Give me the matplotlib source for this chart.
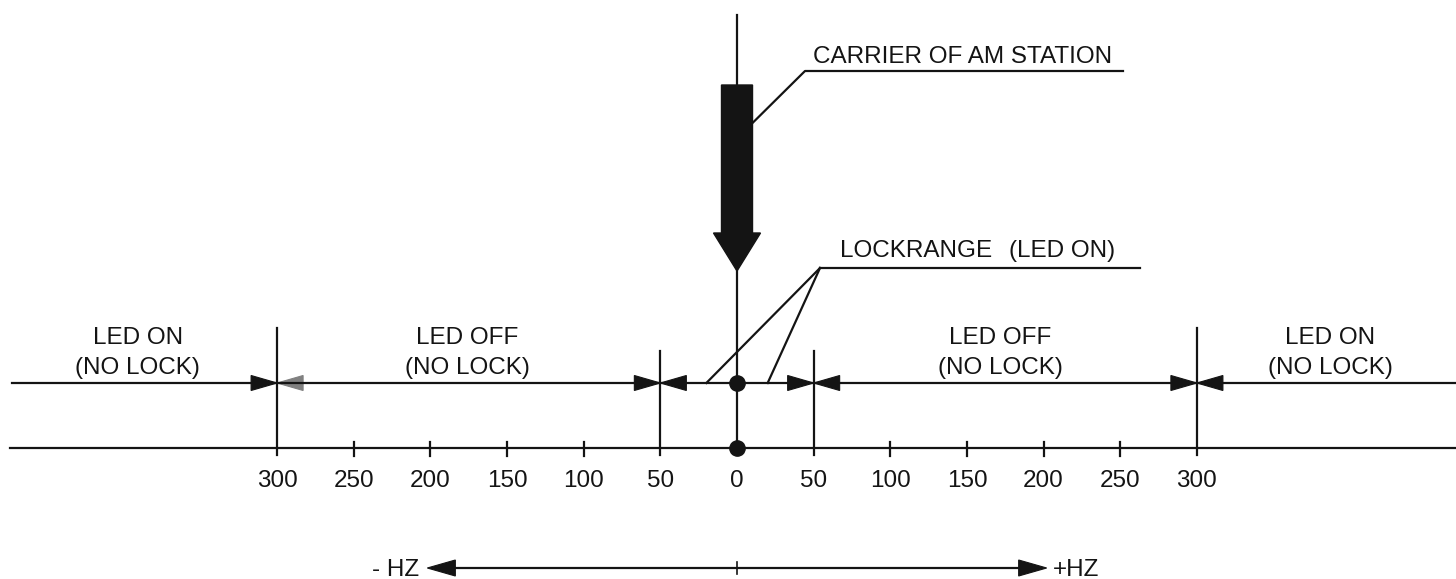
import matplotlib
matplotlib.use("Agg")
import matplotlib.pyplot as plt
from matplotlib.patches import Polygon

# ---------------- data ----------------
tick_hz = [-300, -250, -200, -150, -100, -50, 0, 50, 100, 150, 200, 250, 300]
tick_labels = ["300", "250", "200", "150", "100", "50", "0", "50", "100", "150", "200", "250", "300"]
boundary_hz = [-300, -50, 50, 300]
region_center_hz = [-391, -176, 172, 387]
region_titles = ["LED ON", "LED OFF", "LED OFF", "LED ON"]
region_subtitles = ["(NO LOCK)", "(NO LOCK)", "(NO LOCK)", "(NO LOCK)"]
lock_hz = [-20, 20]
carrier_hz = 0
span_hz = [-202, 202]
carrier_text = "CARRIER OF AM STATION"
lock_text = "LOCKRANGE"
lock_text2 = "(LED ON)"

# ---------------- layout ----------------
W, H = 1456, 579
k = 1.533          # px per Hz
x0 = 737           # px of 0 Hz


def px(d):
    return d / k


fig = plt.figure(figsize=(W / 100, H / 100), dpi=100)
ax = fig.add_axes([0, 0, 1, 1])
ax.set_xlim(-x0 / k, (W - x0) / k)
ax.set_ylim(H, 0)
ax.axis("off")

INK = "#141414"
LW = 1.6
FONT = dict(family=["Liberation Sans", "DejaVu Sans"], size=17.5, color=INK)

y_up, y_lo = 383, 448
xl, xr = ax.get_xlim()

# main horizontal lines
ax.plot([xl + px(12), xr], [y_up, y_up], color=INK, lw=LW)
ax.plot([xl + px(10), xr], [y_lo, y_lo], color=INK, lw=LW)

# boundary verticals and arrowheads
alen, ahw = px(26), 7.5
for b in boundary_hz:
    top = 328 if abs(b) == 300 else 351
    ax.plot([b, b], [top, 455], color=INK, lw=LW)
    for side in (-1, 1):
        col = "#808080" if (b == -300 and side == 1) else INK
        tri = Polygon([[b, y_up], [b + side * alen, y_up - ahw], [b + side * alen, y_up + ahw]],
                      closed=True, facecolor=col, edgecolor=col, lw=0.8)
        ax.add_patch(tri)

# minor ticks and labels
for t, lab in zip(tick_hz, tick_labels):
    if t not in boundary_hz and t != carrier_hz:
        ax.plot([t, t], [442, 456], color=INK, lw=LW)
    ax.text(t, 487, lab, ha="center", va="baseline", **FONT)

# carrier line and dots
ax.plot([carrier_hz, carrier_hz], [15, y_lo], color=INK, lw=LW)
for yy in (y_up, y_lo):
    ax.plot([carrier_hz], [yy], marker="o", ms=11, color=INK, mec=INK)

# thick carrier arrow
sw, hw = px(15.5), px(23.5)
arrow = Polygon([[carrier_hz - sw, 85], [carrier_hz + sw, 85], [carrier_hz + sw, 233],
                 [carrier_hz + hw, 233], [carrier_hz, 271], [carrier_hz - hw, 233],
                 [carrier_hz - sw, 233]], closed=True, facecolor=INK, edgecolor=INK, lw=1)
ax.add_patch(arrow)

# carrier leader + text
ax.plot([carrier_hz + sw, carrier_hz + px(68), carrier_hz + px(386)], [123, 71, 71], color=INK, lw=LW)
ax.text(carrier_hz + px(76), 63, carrier_text, ha="left", va="baseline", **FONT)

# lockrange leaders + text
lx = px(83)
for lh in lock_hz:
    ax.plot([lh, lx], [y_up, 268], color=INK, lw=LW)
ax.plot([lx, px(403)], [268, 268], color=INK, lw=LW)
ax.text(px(103), 257, lock_text, ha="left", va="baseline", **FONT)
ax.text(px(272), 257, lock_text2, ha="left", va="baseline", **FONT)

# region labels
for c, t1, t2 in zip(region_center_hz, region_titles, region_subtitles):
    ax.text(c, 344, t1, ha="center", va="baseline", **FONT)
    ax.text(c, 374, t2, ha="center", va="baseline", **FONT)

# bottom -HZ / +HZ arrow
y_hz = 568
ax.plot([span_hz[0] + px(20), span_hz[1] - px(20)], [y_hz, y_hz], color=INK, lw=LW)
hl, hh = px(28), 8
for s, sgn in zip(span_hz, (-1, 1)):
    tri = Polygon([[s, y_hz], [s - sgn * hl, y_hz - hh], [s - sgn * hl, y_hz + hh]],
                  closed=True, facecolor=INK, edgecolor=INK, lw=0.8)
    ax.add_patch(tri)
ax.plot([carrier_hz, carrier_hz], [562, 574], color=INK, lw=1.2)
ax.text(span_hz[0] - px(8), 576, "- HZ", ha="right", va="baseline", **FONT)
ax.text(span_hz[1] + px(6), 576, "+HZ", ha="left", va="baseline", **FONT)

fig.savefig("out.png", dpi=100, facecolor="white")
